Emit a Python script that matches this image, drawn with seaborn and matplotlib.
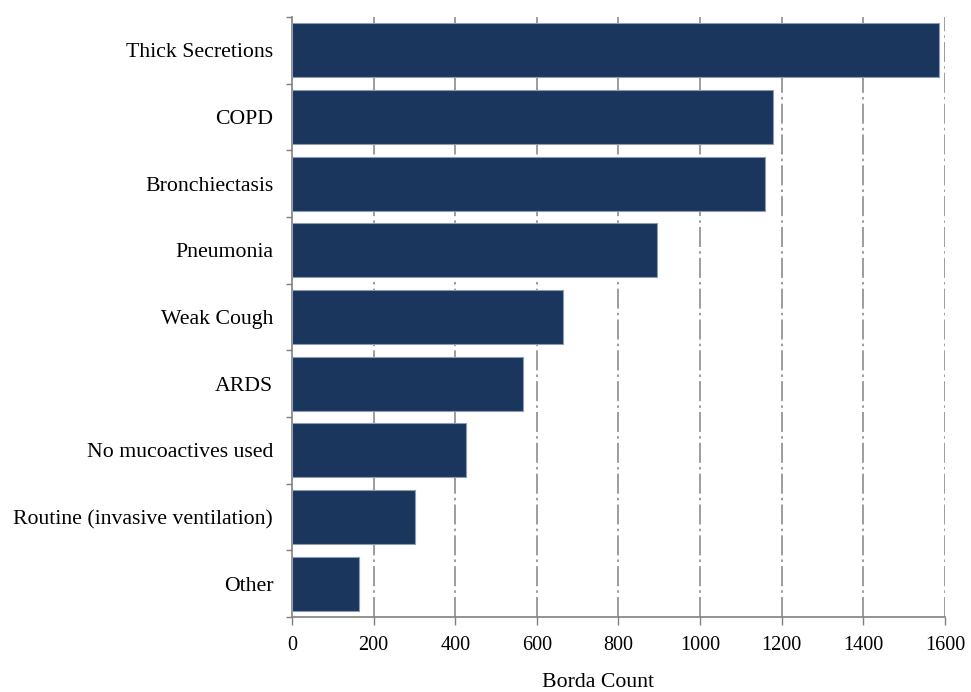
import matplotlib
matplotlib.use("Agg")
import matplotlib.pyplot as plt
import seaborn as sns
import pandas as pd
import numpy as np

categorias = ["Thick Secretions", "COPD", "Bronchiectasis", "Pneumonia", "Weak Cough",
              "ARDS", "No mucoactives used", "Routine (invasive ventilation)", "Other"]
borda = [1585, 1179, 1159, 895, 665, 567, 426, 301, 164]
ticks_x = [0, 200, 400, 600, 800, 1000, 1200, 1400, 1600]

datos = pd.DataFrame({"categoria": categorias, "borda": borda})

sns.set_style("white")
plt.rcParams["font.family"] = ["Liberation Serif", "DejaVu Serif"]
plt.rcParams["text.color"] = "black"
plt.rcParams["xtick.color"] = "black"
plt.rcParams["ytick.color"] = "black"

fig = plt.figure(figsize=(9.71, 6.92), dpi=100)
ax = fig.add_axes([0.3007, 0.1084, 0.9732 - 0.3007, 0.9754 - 0.1084])

sns.barplot(data=datos, x="borda", y="categoria", orient="h", color="#1a365d",
            saturation=1, width=0.81, edgecolor="#8d9cb4", linewidth=0.8, ax=ax, zorder=3)

ax.set_xlim(0, 1600)
ax.set_ylim(len(categorias) - 0.5, -0.5)
ax.set_xticks(ticks_x)
ax.set_xticklabels([str(t) for t in ticks_x], fontsize=14.5)
for t in ticks_x[1:]:
    ax.axvline(t, color="#8c8c8c", linestyle=(0, (12, 2.5, 1.5, 2.5)), linewidth=1.2, zorder=1)

ax.set_yticks(range(len(categorias)))
ax.set_yticklabels(categorias, fontsize=15.7)
ax.set_yticks(np.arange(-0.5, len(categorias), 1), minor=True)
ax.tick_params(axis="y", which="major", left=False, length=0, pad=13.5, labelcolor="black")
ax.tick_params(axis="y", which="minor", left=True, length=4.5, width=1, color="#808080", direction="out")
ax.tick_params(axis="x", which="major", bottom=True, length=6, width=1, color="#808080",
               direction="out", pad=7.5, labelcolor="black")

ax.set_xlabel("Borda Count", fontsize=15.7, color="black")
ax.xaxis.set_label_coords(0.469, -0.094)
ax.set_ylabel("")

for s in ["top", "right"]:
    ax.spines[s].set_visible(False)
for s in ["left", "bottom"]:
    ax.spines[s].set_color("#808080")
    ax.spines[s].set_linewidth(1.2)

fig.savefig("out.png", dpi=100)
